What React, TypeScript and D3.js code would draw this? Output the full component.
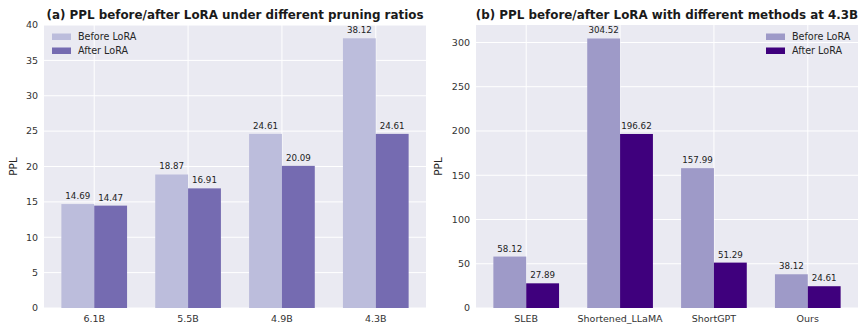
import { useRef, useEffect } from 'react';
import * as d3 from 'd3';

const ratios = ['6.1B', '5.5B', '4.9B', '4.3B'];
const ratioBefore = [14.69, 18.87, 24.61, 38.12];
const ratioAfter = [14.47, 16.91, 20.09, 24.61];

const methods = ['SLEB', 'Shortened_LLaMA', 'ShortGPT', 'Ours'];
const methodBefore = [58.12, 304.52, 157.99, 38.12];
const methodAfter = [27.89, 196.62, 51.29, 24.61];

const ticksA = [0, 5, 10, 15, 20, 25, 30, 35, 40];
const ticksB = [0, 50, 100, 150, 200, 250, 300];

const FONT = 'DejaVu Sans, sans-serif';

function drawPanel(svg, opts) {
  const { left, right, top, bottom, cats, before, after, yMax, ticks, title, colors, legendRight } = opts;
  const g = svg.append('g');
  const bw = 0.35;

  const x = d3.scaleLinear()
    .domain([-0.535, cats.length - 1 + 0.535])
    .range([left, right]);
  const y = d3.scaleLinear().domain([0, yMax]).range([bottom, top]);

  g.append('rect')
    .attr('x', left).attr('y', top)
    .attr('width', right - left).attr('height', bottom - top)
    .attr('fill', '#eaeaf2');

  // grid
  g.selectAll('.hg').data(ticks).join('line')
    .attr('x1', left).attr('x2', right)
    .attr('y1', d => y(d)).attr('y2', d => y(d))
    .attr('stroke', '#fff').attr('stroke-width', 1);
  g.selectAll('.vg').data(cats).join('line')
    .attr('x1', (d, i) => x(i)).attr('x2', (d, i) => x(i))
    .attr('y1', top).attr('y2', bottom)
    .attr('stroke', '#fff').attr('stroke-width', 1);

  const series = [
    { vals: before, off: -bw / 2, color: colors[0] },
    { vals: after, off: bw / 2, color: colors[1] },
  ];
  series.forEach(s => {
    g.append('g').selectAll('rect').data(s.vals).join('rect')
      .attr('x', (d, i) => x(i + s.off - bw / 2))
      .attr('width', x(bw) - x(0))
      .attr('y', d => y(d))
      .attr('height', d => bottom - y(d))
      .attr('fill', s.color);
    g.append('g').selectAll('text').data(s.vals).join('text')
      .attr('x', (d, i) => x(i + s.off))
      .attr('y', d => y(d) - 5)
      .attr('text-anchor', 'middle')
      .attr('font-family', FONT).attr('font-size', 8.7)
      .attr('fill', '#222')
      .text(d => d.toFixed(2));
  });

  // y ticks
  g.selectAll('.yt').data(ticks).join('text')
    .attr('x', left - 6).attr('y', d => y(d))
    .attr('dy', '0.35em')
    .attr('text-anchor', 'end')
    .attr('font-family', FONT).attr('font-size', 9.5)
    .attr('fill', '#333')
    .text(d => d);

  // x ticks
  g.selectAll('.xt').data(cats).join('text')
    .attr('x', (d, i) => x(i)).attr('y', bottom + 14)
    .attr('text-anchor', 'middle')
    .attr('font-family', FONT).attr('font-size', 9.5)
    .attr('fill', '#333')
    .text(d => d);

  // y label
  g.append('text')
    .attr('transform', `translate(${opts.yLabelX},${(top + bottom) / 2}) rotate(-90)`)
    .attr('text-anchor', 'middle')
    .attr('font-family', FONT).attr('font-size', 10.5)
    .attr('fill', '#262626')
    .text('PPL');

  // title
  g.append('text')
    .attr('x', (left + right) / 2).attr('y', 19)
    .attr('text-anchor', 'middle')
    .attr('font-family', FONT).attr('font-size', 11.9)
    .attr('font-weight', 'bold')
    .attr('fill', '#1a1a1a')
    .text(title);

  // legend
  const labels = ['Before LoRA', 'After LoRA'];
  const lx = legendRight ? right - 92 : left + 8;
  labels.forEach((l, i) => {
    g.append('rect')
      .attr('x', lx).attr('y', 33.5 + i * 14)
      .attr('width', 19).attr('height', 6.5)
      .attr('fill', colors[i]);
    g.append('text')
      .attr('x', lx + 26).attr('y', 36.8 + i * 14)
      .attr('dy', '0.35em')
      .attr('font-family', FONT).attr('font-size', 9.6)
      .attr('fill', '#262626')
      .text(l);
  });
}

export default function App() {
  const ref = useRef(null);
  useEffect(() => {
    const svg = d3.select(ref.current);
    svg.selectAll('*').remove();
    drawPanel(svg, {
      left: 44, right: 426, top: 25, bottom: 308,
      cats: ratios, before: ratioBefore, after: ratioAfter,
      yMax: 40, ticks: ticksA,
      title: '(a) PPL before/after LoRA under different pruning ratios',
      colors: ['#bcbddc', '#756bb1'],
      legendRight: false, yLabelX: 17,
    });
    drawPanel(svg, {
      left: 476, right: 858, top: 25, bottom: 308,
      cats: methods, before: methodBefore, after: methodAfter,
      yMax: 319.75, ticks: ticksB,
      title: '(b) PPL before/after LoRA with different methods at 4.3B',
      colors: ['#9e9ac8', '#3f007d'],
      legendRight: true, yLabelX: 442,
    });
  }, []);
  return (
    <svg ref={ref} width={868} height={334}
      style={{ position: 'absolute', left: 0, top: 0, background: '#fff' }} />
  );
}
